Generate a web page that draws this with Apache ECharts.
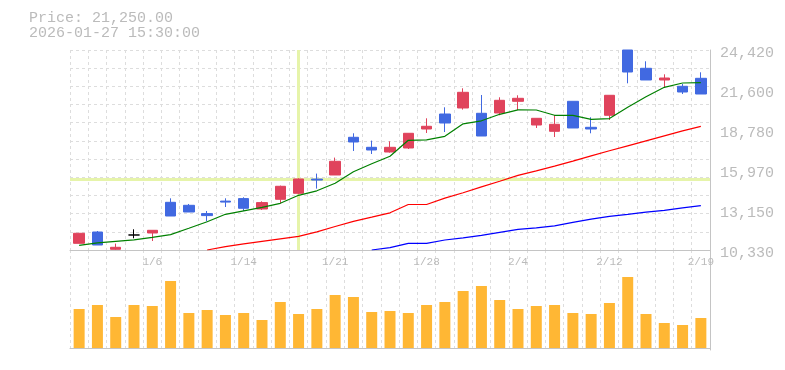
<!DOCTYPE html>
<html><head><meta charset="utf-8">
<script src="https://cdn.jsdelivr.net/npm/echarts@6/dist/echarts.min.js"></script>
<style>html,body{margin:0;padding:0;background:#fff}#c{width:785px;height:370px}</style>
</head><body><div id="c"></div>
<script>
const dates = ['12/26','12/29','12/30','1/5','1/6','1/7','1/8','1/9','1/13','1/14','1/15','1/16','1/19','1/20','1/21','1/22','1/23','1/26','1/27','1/28','1/29','1/30','2/2','2/3','2/4','2/5','2/6','2/9','2/10','2/12','2/13','2/16','2/17','2/18','2/19'];
const opens  = [10802,11598,10380,11387,11528,13690,13479,12894,13775,13951,13218,13902,14325,15325,15614,18270,17565,17234,17516,18854,19911,20334,19961,19982,20806,19136,18692,20806,18974,19820,24420,23131,22307,21863,22426];
const closes = [11507,10682,10520,11387,11718,12725,13007,12753,13705,13268,13669,14818,15332,15255,16579,17939,17375,17565,18552,19045,19277,21440,18361,20876,21017,19608,19185,18925,18854,21229,22870,22307,22447,21461,21320];
const lows   = [10802,10682,10340,11154,10964,12725,13007,12352,13359,13078,13148,13620,14254,14656,15614,17305,17093,17192,17445,18573,18643,20221,18361,19820,20193,18925,18291,18925,18552,19488,22074,22307,21743,21320,21320];
const highs  = [11507,11668,10781,11788,11718,13972,13571,13078,13972,14043,13761,14867,15381,15712,16840,18552,18037,17988,18552,19608,20383,21722,21250,21088,21229,19608,19841,20806,19679,21229,24420,23624,22708,22025,22849];
const volumes = [39000,43000,31000,43000,42000,67000,35000,38000,33000,35000,28000,46000,34000,39000,53000,51000,36000,37000,35000,43000,46000,57000,62000,48000,39000,42000,43000,35000,34000,45000,71000,34000,25000,23000,30000];
const maShort = [10661,10837,10943,11049,11225,11415,11859,12317,12845,13092,13338,13620,14184,14501,15029,15839,16403,16931,18058,18094,18340,19221,19432,19890,20207,20193,19820,19820,19538,19587,20383,21123,21792,22095,22123];
const maMid = [null,null,null,null,null,null,null,10330,10570,10767,10943,11119,11295,11612,11985,12352,12648,12951,13535,13535,13986,14360,14782,15170,15592,15910,16241,16593,16966,17319,17671,18023,18375,18727,19045];
const maLong = [null,null,null,null,null,null,null,null,null,null,null,null,null,null,null,null,10330,10499,10802,10802,11035,11189,11366,11577,11788,11894,12035,12281,12507,12704,12845,13000,13127,13303,13458];
const priceTickLabels = ['10,330','13,150','15,970','18,780','21,600','24,420'];
const priceMin = 10330, priceMax = 24420;
const volMin = -2000, volMax = 98000;
const crossIndex = 12, crossPrice = 15290;
const infoLines = ['Price: 21,250.00', '2026-01-27 15:30:00'];

const FONT = "'Liberation Mono', monospace";
const TXT = '#bbbbbb';
const AX = '#c4c4c4';
const GRIDC = '#dddddd';
const UP = '#e0435c', DOWN = '#4169e1';

const candleData = dates.map((d, i) => {
  const item = { value: [opens[i], closes[i], lows[i], highs[i]] };
  if (opens[i] === closes[i]) {
    item.itemStyle = { color: '#000', color0: '#000', borderColor: '#000', borderColor0: '#000' };
  }
  return item;
});

const chart = echarts.init(document.getElementById('c'), null, { renderer: 'canvas' });
chart.setOption({
  animation: false,
  backgroundColor: '#fff',
  title: {
    text: infoLines.join('\n'), left: 29, top: 11, padding: 0,
    textStyle: { fontFamily: FONT, fontSize: 15, fontWeight: 'normal', color: TXT, lineHeight: 15 }
  },
  grid: [
    { left: 70, right: 75, top: 50, height: 200 },
    { left: 70, right: 75, top: 250, height: 100 }
  ],
  xAxis: [
    { type: 'category', gridIndex: 0, data: dates, boundaryGap: true,
      axisLine: { show: true, lineStyle: { color: AX } }, axisTick: { show: false },
      axisLabel: { show: true, interval: (i) => i % 5 === 4, color: TXT, fontFamily: FONT, fontSize: 11, margin: 7 },
      splitLine: { show: true, interval: 0, lineStyle: { color: GRIDC, type: [3, 3] } } },
    { type: 'category', gridIndex: 1, data: dates, boundaryGap: true,
      axisLine: { show: true, lineStyle: { color: AX } }, axisTick: { show: false },
      axisLabel: { show: false },
      splitLine: { show: true, interval: 0, lineStyle: { color: GRIDC, type: [3, 3] } } }
  ],
  yAxis: [
    { type: 'value', gridIndex: 0, position: 'right', min: priceMin, max: priceMax, scale: true,
      axisLine: { show: true, lineStyle: { color: AX } }, axisTick: { show: false },
      axisLabel: { show: false }, splitLine: { show: false } },
    { type: 'value', gridIndex: 0, position: 'right', min: 0, max: priceTickLabels.length - 1, interval: 1,
      axisLine: { show: false }, axisTick: { show: false }, splitLine: { show: false },
      axisLabel: { show: true, margin: 10, color: TXT, fontFamily: FONT, fontSize: 15,
        verticalAlign: 'top', lineHeight: 6,
        formatter: (v) => priceTickLabels[v] } },
    { type: 'value', gridIndex: 0, position: 'left', min: 0, max: 11, interval: 1,
      axisLine: { show: false }, axisTick: { show: false }, axisLabel: { show: false },
      splitLine: { show: true, lineStyle: { color: GRIDC, type: [3, 3] } } },
    { type: 'value', gridIndex: 1, position: 'right', min: volMin, max: volMax,
      axisLine: { show: true, lineStyle: { color: AX } }, axisTick: { show: false },
      axisLabel: { show: false }, splitLine: { show: false } }
  ],
  series: [
    { type: 'line', xAxisIndex: 0, yAxisIndex: 0, zlevel: 0, z: 1, data: dates.map(() => null), showSymbol: false,
      markLine: { silent: true, symbol: ['none', 'none'], label: { show: false }, animation: false,
        lineStyle: { color: '#e6f4aa', width: 3, type: 'solid' },
        data: [{ xAxis: crossIndex }, { yAxis: crossPrice }] } },
    { type: 'candlestick', xAxisIndex: 0, yAxisIndex: 0, zlevel: 1, z: 2, barWidth: 11, data: candleData,
      itemStyle: { color: UP, color0: DOWN, borderColor: UP, borderColor0: DOWN, borderWidth: 1 } },
    { type: 'line', xAxisIndex: 0, yAxisIndex: 0, zlevel: 1, z: 3, data: maShort, showSymbol: false, symbol: 'none',
      lineStyle: { color: '#008000', width: 1.2 } },
    { type: 'line', xAxisIndex: 0, yAxisIndex: 0, zlevel: 1, z: 3, data: maMid, showSymbol: false, symbol: 'none',
      lineStyle: { color: '#ff0000', width: 1.2 } },
    { type: 'line', xAxisIndex: 0, yAxisIndex: 0, zlevel: 1, z: 3, data: maLong, showSymbol: false, symbol: 'none',
      lineStyle: { color: '#0000ff', width: 1.2 } },
    { type: 'bar', xAxisIndex: 1, yAxisIndex: 3, zlevel: 1, barWidth: 11, data: volumes,
      itemStyle: { color: '#ffb734' } }
  ]
});
</script></body></html>
